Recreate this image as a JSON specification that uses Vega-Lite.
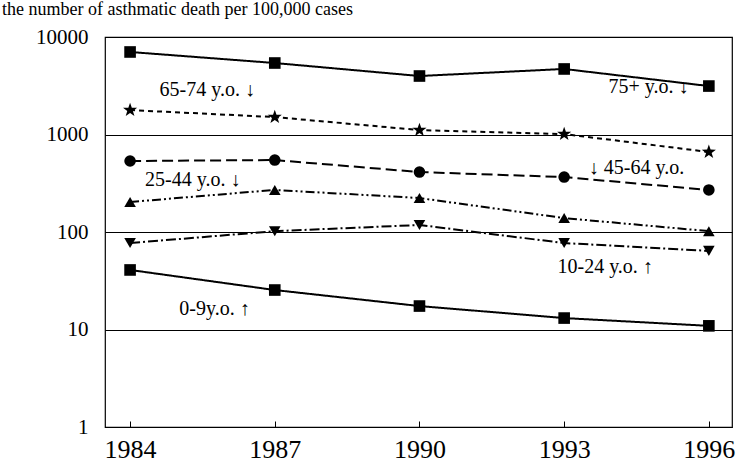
{
  "$schema": "https://vega.github.io/schema/vega-lite/v6.json",
  "width": 627,
  "height": 390,
  "autosize": {"type": "none"},
  "padding": {"left": 105, "top": 37, "right": 8, "bottom": 43},
  "background": "white",
  "config": {
    "view": {"stroke": "black", "strokeWidth": 1.2},
    "font": "'Liberation Serif', 'DejaVu Serif', serif"
  },
  "title": {
    "text": "the number of asthmatic death per 100,000 cases",
    "anchor": "start",
    "frame": "group",
    "dx": -103,
    "offset": 7,
    "baseline": "top",
    "fontSize": 18,
    "fontWeight": "normal",
    "font": "'Liberation Serif', 'DejaVu Serif', serif",
    "color": "black"
  },
  "datasets": {
    "series": [
      {"group": "75+", "year": 1984, "value": 7020},
      {"group": "75+", "year": 1987, "value": 5410},
      {"group": "75+", "year": 1990, "value": 3980},
      {"group": "75+", "year": 1993, "value": 4700},
      {"group": "75+", "year": 1996, "value": 3140},
      {"group": "65-74", "year": 1984, "value": 1780},
      {"group": "65-74", "year": 1987, "value": 1510},
      {"group": "65-74", "year": 1990, "value": 1110},
      {"group": "65-74", "year": 1993, "value": 1010},
      {"group": "65-74", "year": 1996, "value": 662},
      {"group": "45-64", "year": 1984, "value": 535},
      {"group": "45-64", "year": 1987, "value": 547},
      {"group": "45-64", "year": 1990, "value": 412},
      {"group": "45-64", "year": 1993, "value": 366},
      {"group": "45-64", "year": 1996, "value": 270},
      {"group": "25-44", "year": 1984, "value": 203},
      {"group": "25-44", "year": 1987, "value": 270},
      {"group": "25-44", "year": 1990, "value": 223},
      {"group": "25-44", "year": 1993, "value": 139},
      {"group": "25-44", "year": 1996, "value": 102},
      {"group": "10-24", "year": 1984, "value": 77},
      {"group": "10-24", "year": 1987, "value": 102},
      {"group": "10-24", "year": 1990, "value": 118},
      {"group": "10-24", "year": 1993, "value": 77},
      {"group": "10-24", "year": 1996, "value": 64},
      {"group": "0-9", "year": 1984, "value": 40.8},
      {"group": "0-9", "year": 1987, "value": 25.4},
      {"group": "0-9", "year": 1990, "value": 17.4},
      {"group": "0-9", "year": 1993, "value": 13.1},
      {"group": "0-9", "year": 1996, "value": 10.9}
    ],
    "labels": [
      {"label": "75+ y.o. ↓", "year": 1994.75, "value": 3070},
      {"label": "65-74 y.o. ↓", "year": 1985.6, "value": 2860},
      {"label": "↓ 45-64 y.o.", "year": 1994.5, "value": 453},
      {"label": "25-44 y.o. ↓", "year": 1985.3, "value": 341},
      {"label": "10-24 y.o. ↑", "year": 1993.85, "value": 43.8},
      {"label": "0-9y.o. ↑", "year": 1985.75, "value": 16.2}
    ]
  },
  "layer": [
    {
      "data": {"name": "series"},
      "mark": {"type": "line", "color": "black", "strokeWidth": 2},
      "encoding": {
        "x": {
          "field": "year", "type": "quantitative",
          "scale": {"domain": [1983.48, 1996.48], "nice": false, "zero": false},
          "axis": {
            "title": null, "values": [1984, 1987, 1990, 1993, 1996], "format": "d",
            "grid": false, "domain": false, "tickColor": "black", "tickSize": -6,
            "labelFontSize": 26, "labelColor": "black", "labelFont": "'Liberation Serif', 'DejaVu Serif', serif",
            "labelPadding": 15, "labelBaseline": "top"
          }
        },
        "y": {
          "field": "value", "type": "quantitative",
          "scale": {"type": "log", "domain": [1, 10000], "nice": false},
          "axis": {
            "title": null, "values": [1, 10, 100, 1000, 10000], "format": "d",
            "grid": true, "gridColor": "black", "gridOpacity": 1, "gridWidth": 1.2,
            "domain": false, "ticks": false,
            "labelFontSize": 21, "labelColor": "black", "labelFont": "'Liberation Serif', 'DejaVu Serif', serif",
            "labelPadding": 17
          }
        },
        "detail": {"field": "group"},
        "strokeDash": {
          "field": "group", "type": "nominal", "legend": null,
          "scale": {
            "domain": ["75+", "65-74", "45-64", "25-44", "10-24", "0-9"],
            "range": [[1, 0], [5, 4], [11, 5], [9, 3, 2, 3, 2, 3], [10, 3, 2, 3], [1, 0]]
          }
        }
      }
    },
    {
      "data": {"name": "series"},
      "transform": [{"filter": "datum.group !== '65-74'"}],
      "mark": {"type": "point", "filled": true, "color": "black", "opacity": 1, "size": 135},
      "encoding": {
        "x": {"field": "year", "type": "quantitative"},
        "y": {"field": "value", "type": "quantitative"},
        "shape": {
          "field": "group", "type": "nominal", "legend": null,
          "scale": {
            "domain": ["75+", "45-64", "25-44", "10-24", "0-9"],
            "range": ["square", "circle", "triangle-up", "triangle-down", "square"]
          }
        }
      }
    },
    {
      "data": {"name": "series"},
      "transform": [{"filter": "datum.group === '65-74'"}],
      "mark": {"type": "point", "filled": true, "color": "black", "opacity": 1, "size": 220,
        "shape": "M0,-1 L0.235,-0.324 L0.951,-0.309 L0.380,0.124 L0.588,0.809 L0,0.4 L-0.588,0.809 L-0.380,0.124 L-0.951,-0.309 L-0.235,-0.324 Z"},
      "encoding": {
        "x": {"field": "year", "type": "quantitative"},
        "y": {"field": "value", "type": "quantitative"}
      }
    },
    {
      "data": {"name": "labels"},
      "mark": {"type": "text", "fontSize": 20, "font": "'Liberation Serif', 'DejaVu Serif', serif", "color": "black", "align": "center", "baseline": "middle"},
      "encoding": {
        "x": {"field": "year", "type": "quantitative"},
        "y": {"field": "value", "type": "quantitative"},
        "text": {"field": "label"}
      }
    }
  ]
}
